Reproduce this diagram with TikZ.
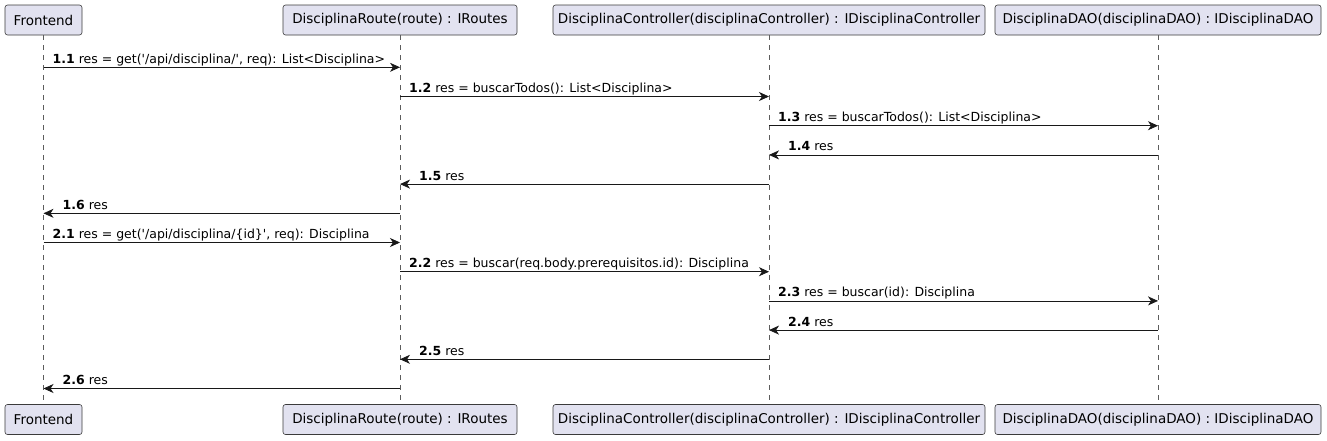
\documentclass[tikz,border=0pt]{standalone}
\usepackage{fontspec}
\setmainfont{DejaVu Sans}
\usetikzlibrary{arrows.meta}
\definecolor{partfill}{HTML}{E2E2F0}
\definecolor{umlline}{HTML}{181818}
\newcommand\Participant[4]{% name, x, width, text
  \node[participant,minimum width=#3] (#1Top) at (#2,20) {#4};
  \node[participant,minimum width=#3] (#1Bot) at (#2,419.5) {#4};
  \draw[lifeline] (#1Top) -- (#1Bot);
}
\newcommand\CallMsg[5]{% from, to, row, number, text
  \pgfmathsetmacro\msgY{67.3+29.2*(#3-1)}
  \coordinate (m#3a) at (#1Top |- 0,\msgY);
  \coordinate (m#3b) at (#2Top |- 0,\msgY);
  \draw[message] (m#3a) -- (m#3b);
  \node[msg label] (l#3) at ([xshift=9pt,yshift=4pt]m#3a) {\textbf{#4} #5};
}
\newcommand\ReturnMsg[5]{% from, to, row, number, text
  \pgfmathsetmacro\msgY{67.3+29.2*(#3-1)}
  \coordinate (m#3a) at (#1Top |- 0,\msgY);
  \coordinate (m#3b) at (#2Top |- 0,\msgY);
  \draw[message] (m#3a) -- (m#3b);
  \node[msg label] (l#3) at ([xshift=19pt,yshift=4pt]m#3b) {\textbf{#4} #5};
}
\tikzset{
  >={Stealth[length=10pt,width=9pt,inset=3pt]},
  participant/.style={draw=umlline!85,fill=partfill,rounded corners=2.5pt,
    line width=0.6pt,minimum height=30pt,inner sep=0pt,
    font=\fontsize{13.5}{16}\selectfont},
  lifeline/.style={umlline!70,line width=0.5pt,dash pattern=on 5pt off 5pt},
  message/.style={umlline,->,line width=0.8pt},
  msg label/.style={font=\fontsize{12.5}{15}\selectfont,inner sep=0pt,
    anchor=base west}
}

\begin{document}
\begin{tikzpicture}[x=1pt,y=-1pt]

	% canvas of the diagram
	\useasboundingbox (0,0) rectangle (1327,440);

	% participants and their lifelines
	\Participant{Front}{43.5}{77pt}{Frontend}
	\Participant{Route}{400}{234pt}{DisciplinaRoute(route) : IRoutes}
	\Participant{Ctrl}{769}{432pt}{DisciplinaController(disciplinaController) : IDisciplinaController}
	\Participant{Dao}{1158}{326pt}{DisciplinaDAO(disciplinaDAO) : IDisciplinaDAO}

	% first call: list all
	\CallMsg{Front}{Route}{1}{1.1}{res = get(\textquotesingle/api/disciplina/\textquotesingle, req): List<Disciplina>}
	\CallMsg{Route}{Ctrl}{2}{1.2}{res = buscarTodos(): List<Disciplina>}
	\CallMsg{Ctrl}{Dao}{3}{1.3}{res = buscarTodos(): List<Disciplina>}
	\ReturnMsg{Dao}{Ctrl}{4}{1.4}{res}
	\ReturnMsg{Ctrl}{Route}{5}{1.5}{res}
	\ReturnMsg{Route}{Front}{6}{1.6}{res}

	% second call: find by id
	\CallMsg{Front}{Route}{7}{2.1}{res = get(\textquotesingle/api/disciplina/\{id\}\textquotesingle, req): Disciplina}
	\CallMsg{Route}{Ctrl}{8}{2.2}{res = buscar(req.body.prerequisitos.id): Disciplina}
	\CallMsg{Ctrl}{Dao}{9}{2.3}{res = buscar(id): Disciplina}
	\ReturnMsg{Dao}{Ctrl}{10}{2.4}{res}
	\ReturnMsg{Ctrl}{Route}{11}{2.5}{res}
	\ReturnMsg{Route}{Front}{12}{2.6}{res}

\end{tikzpicture}
\end{document}
